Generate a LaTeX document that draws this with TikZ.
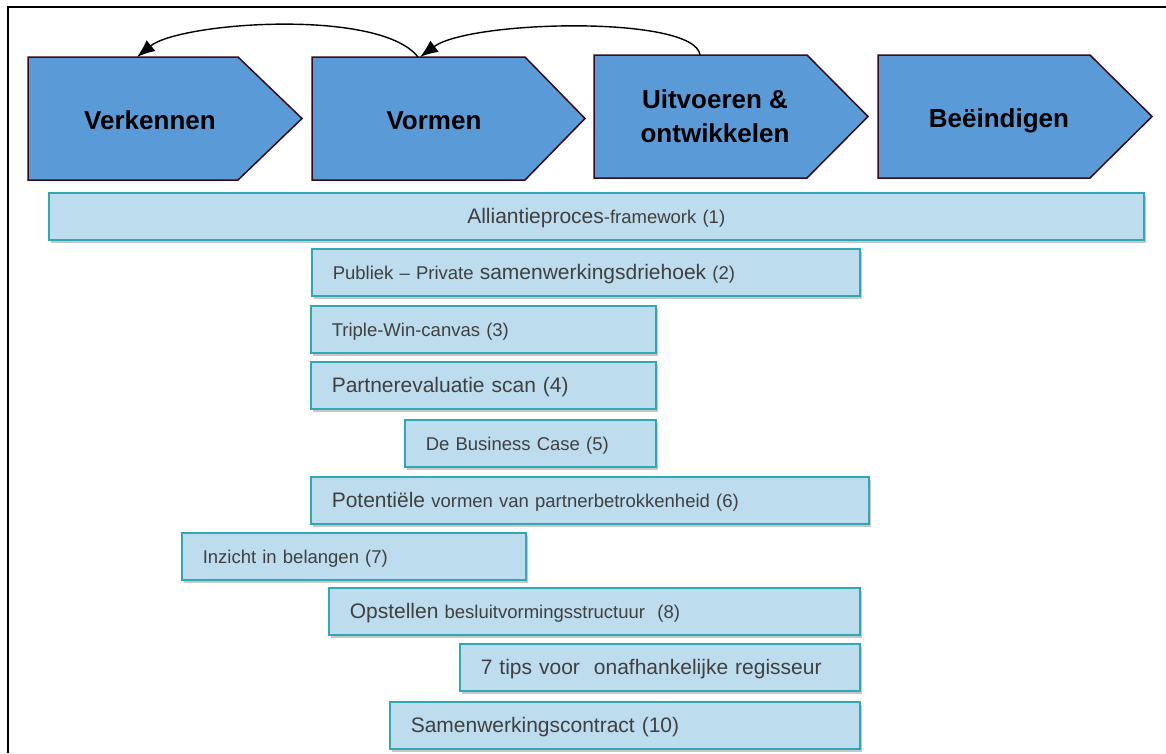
\documentclass[tikz,border=0pt]{standalone}
\usepackage{fontspec}
\setmainfont{Liberation Sans}
\usetikzlibrary{arrows.meta,shadows}
\definecolor{phasefill}{HTML}{5A9AD6}
\definecolor{phaseedge}{HTML}{3A0A18}
\definecolor{barfill}{HTML}{BDDCEE}
\definecolor{baredge}{HTML}{2FA8B1}
\definecolor{bartext}{HTML}{404040}
\newcommand\txtS{\fontsize{18.5}{22}\selectfont}
\newcommand\txtL{\fontsize{21}{25}\selectfont}
\tikzset{
  phase/.style={fill=phasefill, draw=phaseedge, line width=1.5pt, line join=miter},
  phaselabel/.style={font=\bfseries\fontsize{26}{34}\selectfont, text=black, align=center, inner sep=0pt},
  bar/.style={draw=baredge, fill=barfill, line width=1.5pt, anchor=north west,
    minimum height=47pt, inner xsep=21pt, inner ysep=0pt, text=bartext, font=\txtS,
    text height=13.5pt, text depth=0pt,
    drop shadow={shadow xshift=2pt, shadow yshift=-3pt, opacity=0.4, fill=black!55}},
  loopback/.style={-{Latex[length=18pt,width=14pt]}, line width=1.4pt},
  frameline/.style={line width=2pt}
}
\begin{document}
\begin{tikzpicture}[x=1pt,y=-1pt]
\useasboundingbox (0,0) rectangle (1166,753);
\fill[white] (0,0) rectangle (1166,753);
\draw[frameline] (8,753) -- (8,7) -- (1166,7);

% phases
\draw[phase] (28,57) -- (238,57) -- (302,118.5) -- (238,180) -- (28,180) -- cycle;
\draw[phase] (312,57) -- (525,57) -- (585,118.5) -- (525,180) -- (312,180) -- cycle;
\draw[phase] (594,55) -- (807,55) -- (868,116.5) -- (807,178) -- (594,178) -- cycle;
\draw[phase] (878,55) -- (1090,55) -- (1152,116.5) -- (1090,178) -- (878,178) -- cycle;

\node[phaselabel, anchor=base] (verk) at (150,129) {Verkennen};
\node[phaselabel, anchor=base] (vorm) at (434,129) {Vormen};
\node[phaselabel] (uitv) at (715,116) {Uitvoeren \&\\ontwikkelen};
\node[phaselabel, anchor=base] (beei) at (999,127) {Beëindigen};

\coordinate (verktop) at (137,57);
\coordinate (vormtop) at (420,57);
\coordinate (vormstart) at (418,57);
\coordinate (uitvtop) at (700,55);

\draw[loopback] (vormstart) .. controls (380,8) and (180,22) .. (verktop);
\draw[loopback] (uitvtop) .. controls (695,15) and (470,20) .. (vormtop);

% bars
\node[bar, text width=1053pt, align=center] (b1) at (48,192) {{\txtL Alliantieproces}-framework (1)};
\node[bar, text width=506pt, align=left] (b2) at (311,248) {Publiek – Private {\txtL samenwerkingsdriehoek} (2)};
\node[bar, text width=303pt, align=left] (b3) at (310,305) {Triple-Win-canvas (3)};
\node[bar, text width=303pt, align=left, font=\txtL] (b4) at (310,361) {Partnerevaluatie scan (4)};
\node[bar, text width=209pt, align=left] (b5) at (404,419) {De Business Case (5)};
\node[bar, text width=516pt, align=left] (b6) at (310,476) {{\txtL Potentiële} vormen van partnerbetrokkenheid (6)};
\node[bar, text width=302pt, align=left] (b7) at (181,532) {Inzicht in belangen (7)};
\node[bar, text width=489pt, align=left] (b8) at (328,587) {{\txtL Opstellen} besluitvormingsstructuur~ (8)};
\node[bar, text width=358pt, align=left, font=\txtL] (b9) at (459,643) {7 tips voor~ onafhankelijke regisseur};
\node[bar, text width=428pt, align=left, font=\txtL] (b10) at (389,701) {Samenwerkingscontract (10)};
\end{tikzpicture}
\end{document}
